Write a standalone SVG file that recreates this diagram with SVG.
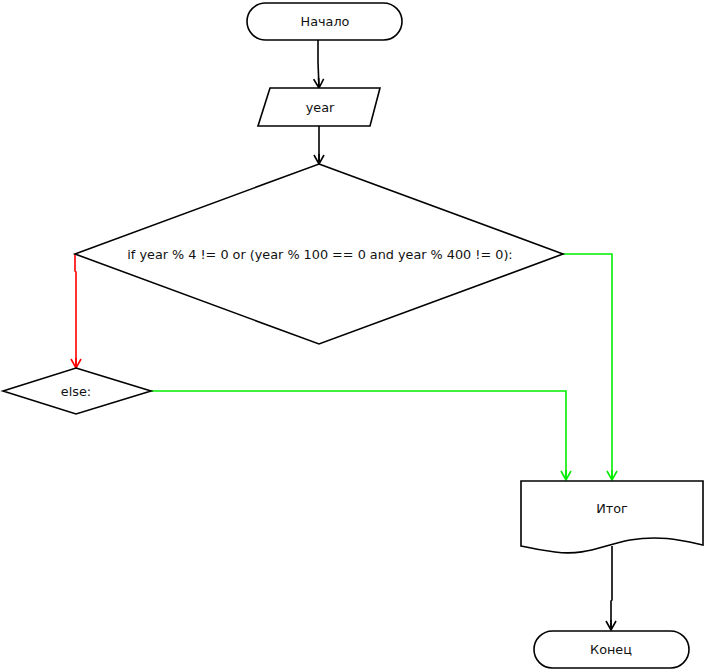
<svg xmlns="http://www.w3.org/2000/svg" width="705" height="672" viewBox="0 0 705 672">
  <defs>
    <marker id="ah-black" markerWidth="12" markerHeight="12" refX="11" refY="6" orient="auto" markerUnits="userSpaceOnUse" viewBox="0 0 12 12">
      <path d="M2,1 L11,6 L2,11 M11,6 L1,6" fill="none" stroke="#000" stroke-width="1.6"/>
    </marker>
    <marker id="ah-red" markerWidth="12" markerHeight="12" refX="11" refY="6" orient="auto" markerUnits="userSpaceOnUse" viewBox="0 0 12 12">
      <path d="M2,1 L11,6 L2,11 M11,6 L1,6" fill="none" stroke="#ff0000" stroke-width="1.6"/>
    </marker>
    <marker id="ah-green" markerWidth="12" markerHeight="12" refX="11" refY="6" orient="auto" markerUnits="userSpaceOnUse" viewBox="0 0 12 12">
      <path d="M2,1 L11,6 L2,11 M11,6 L1,6" fill="none" stroke="#00ee00" stroke-width="1.6"/>
    </marker>
  </defs>
  <style>
    .shape { fill: #fff; stroke: #000; stroke-width: 1.6; }
    .label { font-family: "DejaVu Sans", sans-serif; font-size: 12.8px; fill: #111; text-anchor: middle; dominant-baseline: central; }
    .edge { fill: none; stroke-width: 1.6; }
    .black { stroke: #000; marker-end: url(#ah-black); }
    .red { stroke: #ff0000; marker-end: url(#ah-red); }
    .green { stroke: #00ee00; marker-end: url(#ah-green); }
  </style>
  <rect width="705" height="672" fill="#fff"/>

  <g id="connectors">
    <path class="edge black" d="M318,40 L318,62 L319,88"/>
    <path class="edge black" d="M319,126 L319,164"/>
    <path class="edge red" d="M75,254 L75,271 L76,272 L76,368"/>
    <path class="edge green" d="M151,391 L566,391 L566,480"/>
    <path class="edge green" d="M563,254 L612,254 L612,480"/>
    <path class="edge black" d="M612,546 L612,600 L611,601 L611,630"/>
  </g>

  <g id="start">
    <rect class="shape" x="247" y="3" width="155" height="37" rx="18.5" ry="18.5"/>
    <text class="label" x="325" y="21">Начало</text>
  </g>

  <g id="input-year">
    <polygon class="shape" points="270,88 380,88 370,126 258,126"/>
    <text class="label" x="320" y="107">year</text>
  </g>

  <g id="condition">
    <polygon class="shape" points="319,164 563,254 319,344 75,254"/>
    <text class="label" x="320" y="254">if year % 4 != 0 or (year % 100 == 0 and year % 400 != 0):</text>
  </g>

  <g id="else">
    <polygon class="shape" points="76,368 151,391 76,414 3,391"/>
    <text class="label" x="76" y="391">else:</text>
  </g>

  <g id="result">
    <path class="shape" d="M521,481 L703,481 L703,545 C680,540 660,535 630,540 C600,546 585,556 555,552 C540,550 530,548 521,546 Z"/>
    <text class="label" x="612" y="508">Итог</text>
  </g>

  <g id="end">
    <rect class="shape" x="534" y="631" width="155" height="37" rx="18.5" ry="18.5"/>
    <text class="label" x="611" y="649">Конец</text>
  </g>
</svg>
